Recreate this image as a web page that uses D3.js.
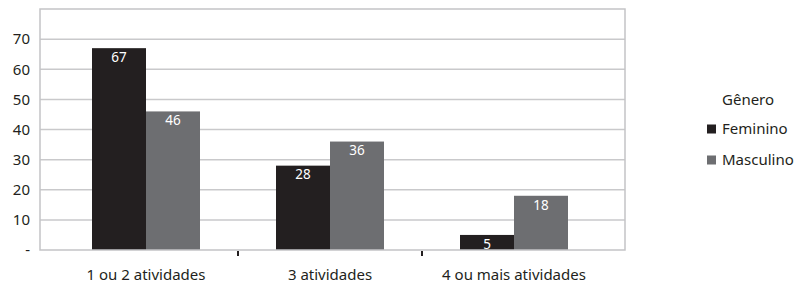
<!DOCTYPE html>
<html>
<head>
<meta charset="utf-8">
<style>
body { margin: 0; background: #fff; }
text { font-family: "Noto Sans", sans-serif; fill: #231f20; }
.grid line { stroke: #c9c9cb; stroke-width: 1.5; }
.frame { fill: none; stroke: #c4c4c6; stroke-width: 1.5; }
.val { fill: #fff; font-size: 13.5px; }
</style>
</head>
<body>
<svg width="796" height="283"></svg>
<script src="https://d3js.org/d3.v7.min.js"></script>
<script>
var categories = ["1 ou 2 atividades", "3 atividades", "4 ou mais atividades"];
var series = ["Feminino", "Masculino"];
var feminino = [67, 28, 5];
var masculino = [46, 36, 18];
var yTicks = [0, 10, 20, 30, 40, 50, 60, 70];
var legendTitle = "Gênero";

var colors = { Feminino: "#231f20", Masculino: "#6d6e71" };

var svg = d3.select("svg");
var plotLeft = 40, plotRight = 625, plotTop = 9, plotBottom = 250;

var y = d3.scaleLinear().domain([0, 80]).range([plotBottom, plotTop]);
var x0 = d3.scaleBand().domain(categories).range([54, 606]);
var x1 = d3.scaleBand().domain(series).range([38, 146]);

// gridlines
svg.append("g").attr("class", "grid")
  .selectAll("line").data(yTicks.filter(d => d > 0))
  .enter().append("line")
  .attr("x1", plotLeft).attr("x2", plotRight)
  .attr("y1", d => y(d)).attr("y2", d => y(d));

// y labels
svg.append("g").selectAll("text").data(yTicks)
  .enter().append("text")
  .attr("x", 30).attr("y", d => y(d))
  .attr("dy", "0.35em")
  .attr("text-anchor", "end")
  .style("font-size", "15px")
  .text(d => d === 0 ? "-" : d);

var rows = categories.map((c, i) => ({ cat: c, vals: [
  { s: "Feminino", v: feminino[i] },
  { s: "Masculino", v: masculino[i] }
]}));

var groups = svg.append("g").selectAll("g").data(rows)
  .enter().append("g")
  .attr("transform", d => "translate(" + x0(d.cat) + ",0)");

groups.selectAll("rect").data(d => d.vals)
  .enter().append("rect")
  .attr("x", d => x1(d.s))
  .attr("width", x1.bandwidth())
  .attr("y", d => y(d.v))
  .attr("height", d => plotBottom - y(d.v))
  .attr("fill", d => colors[d.s]);

groups.selectAll("text").data(d => d.vals)
  .enter().append("text")
  .attr("class", "val")
  .attr("x", d => x1(d.s) + x1.bandwidth() / 2)
  .attr("y", d => y(d.v) + 9)
  .attr("dy", "0.35em")
  .attr("text-anchor", "middle")
  .text(d => d.v);

// frame
svg.append("path").attr("class", "frame")
  .attr("d", "M" + plotLeft + "," + plotTop + "H" + plotRight + "V" + plotBottom + "H" + plotLeft + "Z");

// ticks between categories
svg.append("g").selectAll("line").data(categories.slice(1))
  .enter().append("line")
  .attr("x1", d => x0(d)).attr("x2", d => x0(d))
  .attr("y1", plotBottom + 1).attr("y2", plotBottom + 6)
  .attr("stroke", "#231f20").attr("stroke-width", 2);

// x labels
svg.append("g").selectAll("text").data(categories)
  .enter().append("text")
  .attr("x", d => x0(d) + x0.bandwidth() / 2)
  .attr("y", 275).attr("dy", "0.35em")
  .attr("text-anchor", "middle")
  .style("font-size", "15px")
  .text(d => d);

// legend
var lg = svg.append("g").attr("transform", "translate(707,0)");
lg.append("text").attr("x", 15).attr("y", 100).attr("dy", "0.35em")
  .style("font-size", "15px").text(legendTitle);
var li = lg.selectAll("g").data(series).enter().append("g")
  .attr("transform", (d, i) => "translate(0," + (129 + i * 31) + ")");
li.append("rect").attr("x", 0).attr("y", -4.5).attr("width", 9).attr("height", 9)
  .attr("fill", d => colors[d]);
li.append("text").attr("x", 15).attr("dy", "0.35em")
  .style("font-size", "15px").text(d => d);
</script>
</body>
</html>
